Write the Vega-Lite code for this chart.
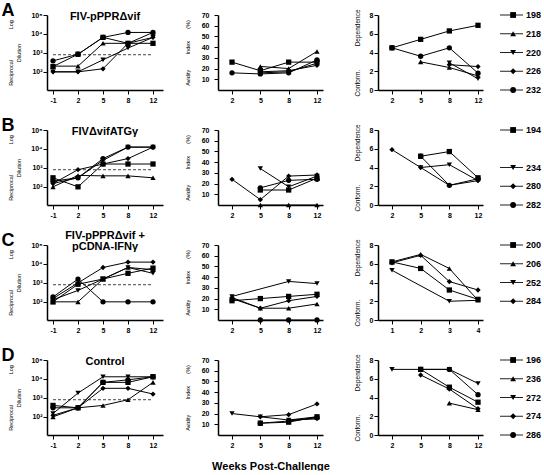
{
"$schema": "https://vega.github.io/schema/vega-lite/v6.json",
"padding": {"left": 1, "top": 1, "right": 0, "bottom": 0},
"background": "white",
"datasets": {
"titer": [
{"group":"A","animal":"198","week":-1,"titer":190},{"group":"A","animal":"198","week":2,"titer":850},{"group":"A","animal":"198","week":5,"titer":6600},{"group":"A","animal":"198","week":8,"titer":3200},{"group":"A","animal":"198","week":12,"titer":3200},
{"group":"A","animal":"218","week":-1,"titer":200},{"group":"A","animal":"218","week":2,"titer":200},{"group":"A","animal":"218","week":5,"titer":3200},{"group":"A","animal":"218","week":8,"titer":3200},{"group":"A","animal":"218","week":12,"titer":12000},
{"group":"A","animal":"220","week":-1,"titer":100},{"group":"A","animal":"220","week":2,"titer":100},{"group":"A","animal":"220","week":5,"titer":430},{"group":"A","animal":"220","week":8,"titer":1800},{"group":"A","animal":"220","week":12,"titer":6600},
{"group":"A","animal":"226","week":-1,"titer":100},{"group":"A","animal":"226","week":2,"titer":100},{"group":"A","animal":"226","week":5,"titer":145},{"group":"A","animal":"226","week":8,"titer":3200},{"group":"A","animal":"226","week":12,"titer":6600},
{"group":"A","animal":"232","week":-1,"titer":380},{"group":"A","animal":"232","week":2,"titer":850},{"group":"A","animal":"232","week":5,"titer":6600},{"group":"A","animal":"232","week":8,"titer":12000},{"group":"A","animal":"232","week":12,"titer":12000},
{"group":"B","animal":"194","week":-1,"titer":300},{"group":"B","animal":"194","week":2,"titer":100},{"group":"B","animal":"194","week":5,"titer":1600},{"group":"B","animal":"194","week":8,"titer":1600},{"group":"B","animal":"194","week":12,"titer":1600},
{"group":"B","animal":"282","week":-1,"titer":200},{"group":"B","animal":"282","week":2,"titer":300},{"group":"B","animal":"282","week":5,"titer":3100},{"group":"B","animal":"282","week":8,"titer":12500},{"group":"B","animal":"282","week":12,"titer":12500},
{"group":"B","animal":"280","week":-1,"titer":150},{"group":"B","animal":"280","week":2,"titer":800},{"group":"B","animal":"280","week":5,"titer":1600},{"group":"B","animal":"280","week":8,"titer":3100},{"group":"B","animal":"280","week":12,"titer":12500},
{"group":"B","animal":"234","week":-1,"titer":150},{"group":"B","animal":"234","week":2,"titer":300},{"group":"B","animal":"234","week":5,"titer":2500},{"group":"B","animal":"234","week":8,"titer":12500},{"group":"B","animal":"234","week":12,"titer":12500},
{"group":"B","animal":"unlabelled B","week":-1,"titer":100},{"group":"B","animal":"unlabelled B","week":2,"titer":400},{"group":"B","animal":"unlabelled B","week":5,"titer":380},{"group":"B","animal":"unlabelled B","week":8,"titer":380},{"group":"B","animal":"unlabelled B","week":12,"titer":300},
{"group":"C","animal":"284","week":-1,"titer":150},{"group":"C","animal":"284","week":2,"titer":1000},{"group":"C","animal":"284","week":5,"titer":6500},{"group":"C","animal":"284","week":8,"titer":12500},{"group":"C","animal":"284","week":12,"titer":12500},
{"group":"C","animal":"200","week":-1,"titer":100},{"group":"C","animal":"200","week":2,"titer":850},{"group":"C","animal":"200","week":5,"titer":1600},{"group":"C","animal":"200","week":8,"titer":3200},{"group":"C","animal":"200","week":12,"titer":6000},
{"group":"C","animal":"206","week":-1,"titer":100},{"group":"C","animal":"206","week":2,"titer":100},{"group":"C","animal":"206","week":5,"titer":1600},{"group":"C","animal":"206","week":8,"titer":6500},{"group":"C","animal":"206","week":12,"titer":5000},
{"group":"C","animal":"252","week":-1,"titer":130},{"group":"C","animal":"252","week":2,"titer":400},{"group":"C","animal":"252","week":5,"titer":1600},{"group":"C","animal":"252","week":8,"titer":6500},{"group":"C","animal":"252","week":12,"titer":3200},
{"group":"C","animal":"unlabelled C","week":-1,"titer":180},{"group":"C","animal":"unlabelled C","week":2,"titer":1600},{"group":"C","animal":"unlabelled C","week":5,"titer":100},{"group":"C","animal":"unlabelled C","week":8,"titer":100},{"group":"C","animal":"unlabelled C","week":12,"titer":100},
{"group":"D","animal":"272","week":-1,"titer":150},{"group":"D","animal":"272","week":2,"titer":1800},{"group":"D","animal":"272","week":5,"titer":13000},{"group":"D","animal":"272","week":8,"titer":13000},{"group":"D","animal":"272","week":12,"titer":13000},
{"group":"D","animal":"196","week":-1,"titer":400},{"group":"D","animal":"196","week":2,"titer":300},{"group":"D","animal":"196","week":5,"titer":6600},{"group":"D","animal":"196","week":8,"titer":6600},{"group":"D","animal":"196","week":12,"titer":13000},
{"group":"D","animal":"286","week":-1,"titer":300},{"group":"D","animal":"286","week":2,"titer":300},{"group":"D","animal":"286","week":5,"titer":6600},{"group":"D","animal":"286","week":8,"titer":9000},{"group":"D","animal":"286","week":12,"titer":13000},
{"group":"D","animal":"274","week":-1,"titer":120},{"group":"D","animal":"274","week":2,"titer":300},{"group":"D","animal":"274","week":5,"titer":3200},{"group":"D","animal":"274","week":8,"titer":3200},{"group":"D","animal":"274","week":12,"titer":1600},
{"group":"D","animal":"236","week":-1,"titer":100},{"group":"D","animal":"236","week":2,"titer":300},{"group":"D","animal":"236","week":5,"titer":400},{"group":"D","animal":"236","week":8,"titer":800},{"group":"D","animal":"236","week":12,"titer":6600}
],
"cutoff": [{"group":"A","cutoff":800},{"group":"B","cutoff":800},{"group":"C","cutoff":800},{"group":"D","cutoff":800}],
"avidity": [
{"group":"A","animal":"198","week":2,"avidity":26},{"group":"A","animal":"198","week":5,"avidity":18},{"group":"A","animal":"198","week":8,"avidity":26},{"group":"A","animal":"198","week":12,"avidity":26},
{"group":"A","animal":"232","week":2,"avidity":16},{"group":"A","animal":"232","week":5,"avidity":15},{"group":"A","animal":"232","week":8,"avidity":16},{"group":"A","animal":"232","week":12,"avidity":28},
{"group":"A","animal":"218","week":5,"avidity":22},{"group":"A","animal":"218","week":8,"avidity":20},{"group":"A","animal":"218","week":12,"avidity":36},
{"group":"A","animal":"220","week":5,"avidity":16},{"group":"A","animal":"220","week":8,"avidity":17},{"group":"A","animal":"220","week":12,"avidity":25},
{"group":"A","animal":"226","week":5,"avidity":17},{"group":"A","animal":"226","week":8,"avidity":18},{"group":"A","animal":"226","week":12,"avidity":23},
{"group":"B","animal":"194","week":5,"avidity":14},{"group":"B","animal":"194","week":8,"avidity":14},{"group":"B","animal":"194","week":12,"avidity":25},
{"group":"B","animal":"282","week":5,"avidity":16},{"group":"B","animal":"282","week":8,"avidity":23},{"group":"B","animal":"282","week":12,"avidity":24},
{"group":"B","animal":"234","week":5,"avidity":34},{"group":"B","animal":"234","week":8,"avidity":17},{"group":"B","animal":"234","week":12,"avidity":27},
{"group":"B","animal":"280","week":2,"avidity":24},{"group":"B","animal":"280","week":5,"avidity":5},{"group":"B","animal":"280","week":8,"avidity":27},{"group":"B","animal":"280","week":12,"avidity":28},
{"group":"B","animal":"unlabelled B","week":5,"avidity":0},{"group":"B","animal":"unlabelled B","week":8,"avidity":0},{"group":"B","animal":"unlabelled B","week":12,"avidity":0},
{"group":"C","animal":"252","week":2,"avidity":22},{"group":"C","animal":"252","week":8,"avidity":36},{"group":"C","animal":"252","week":12,"avidity":34},
{"group":"C","animal":"200","week":2,"avidity":18},{"group":"C","animal":"200","week":5,"avidity":20},{"group":"C","animal":"200","week":8,"avidity":22},{"group":"C","animal":"200","week":12,"avidity":24},
{"group":"C","animal":"206","week":2,"avidity":20},{"group":"C","animal":"206","week":5,"avidity":11},{"group":"C","animal":"206","week":8,"avidity":11},{"group":"C","animal":"206","week":12,"avidity":15},
{"group":"C","animal":"284","week":2,"avidity":21},{"group":"C","animal":"284","week":5,"avidity":11},{"group":"C","animal":"284","week":8,"avidity":18},{"group":"C","animal":"284","week":12,"avidity":22},
{"group":"C","animal":"unlabelled C","week":5,"avidity":0},{"group":"C","animal":"unlabelled C","week":8,"avidity":0},{"group":"C","animal":"unlabelled C","week":12,"avidity":0},
{"group":"D","animal":"272","week":2,"avidity":20},{"group":"D","animal":"272","week":5,"avidity":17},{"group":"D","animal":"272","week":8,"avidity":14},{"group":"D","animal":"272","week":12,"avidity":15},
{"group":"D","animal":"274","week":5,"avidity":17},{"group":"D","animal":"274","week":8,"avidity":19},{"group":"D","animal":"274","week":12,"avidity":29},
{"group":"D","animal":"196","week":5,"avidity":11},{"group":"D","animal":"196","week":8,"avidity":12},{"group":"D","animal":"196","week":12,"avidity":17},
{"group":"D","animal":"286","week":5,"avidity":11},{"group":"D","animal":"286","week":8,"avidity":13},{"group":"D","animal":"286","week":12,"avidity":16},
{"group":"D","animal":"236","week":8,"avidity":14},{"group":"D","animal":"236","week":12,"avidity":17}
],
"dependence": [
{"group":"A","animal":"198","week":2,"dependence":4.5},{"group":"A","animal":"198","week":5,"dependence":5.4},{"group":"A","animal":"198","week":8,"dependence":6.3},{"group":"A","animal":"198","week":12,"dependence":6.9},
{"group":"A","animal":"232","week":2,"dependence":4.5},{"group":"A","animal":"232","week":5,"dependence":3.6},{"group":"A","animal":"232","week":8,"dependence":4.5},{"group":"A","animal":"232","week":12,"dependence":1.8},
{"group":"A","animal":"218","week":5,"dependence":3.0},{"group":"A","animal":"218","week":8,"dependence":2.4},{"group":"A","animal":"218","week":12,"dependence":1.5},
{"group":"A","animal":"220","week":8,"dependence":2.9},{"group":"A","animal":"220","week":12,"dependence":1.2},
{"group":"A","animal":"226","week":8,"dependence":2.7},{"group":"A","animal":"226","week":12,"dependence":2.5},
{"group":"B","animal":"280","week":2,"dependence":5.9},{"group":"B","animal":"280","week":5,"dependence":4.0},{"group":"B","animal":"280","week":8,"dependence":2.1},{"group":"B","animal":"280","week":12,"dependence":2.6},
{"group":"B","animal":"194","week":5,"dependence":5.2},{"group":"B","animal":"194","week":8,"dependence":5.7},{"group":"B","animal":"194","week":12,"dependence":2.9},
{"group":"B","animal":"234","week":5,"dependence":4.0},{"group":"B","animal":"234","week":8,"dependence":4.3},{"group":"B","animal":"234","week":12,"dependence":2.6},
{"group":"B","animal":"282","week":5,"dependence":5.2},{"group":"B","animal":"282","week":8,"dependence":2.1},{"group":"B","animal":"282","week":12,"dependence":2.8},
{"group":"C","animal":"200","week":1,"dependence":6.2},{"group":"C","animal":"200","week":2,"dependence":5.5},{"group":"C","animal":"200","week":3,"dependence":3.2},{"group":"C","animal":"200","week":4,"dependence":2.2},
{"group":"C","animal":"206","week":1,"dependence":6.2},{"group":"C","animal":"206","week":2,"dependence":7.0},{"group":"C","animal":"206","week":3,"dependence":5.5},{"group":"C","animal":"206","week":4,"dependence":2.1},
{"group":"C","animal":"252","week":1,"dependence":5.3},{"group":"C","animal":"252","week":3,"dependence":2.0},{"group":"C","animal":"252","week":4,"dependence":2.1},
{"group":"C","animal":"284","week":1,"dependence":6.1},{"group":"C","animal":"284","week":2,"dependence":6.9},{"group":"C","animal":"284","week":3,"dependence":4.1},{"group":"C","animal":"284","week":4,"dependence":3.2},
{"group":"D","animal":"272","week":2,"dependence":7.0},{"group":"D","animal":"272","week":5,"dependence":7.0},{"group":"D","animal":"272","week":8,"dependence":7.0},{"group":"D","animal":"272","week":12,"dependence":5.5},
{"group":"D","animal":"286","week":5,"dependence":7.0},{"group":"D","animal":"286","week":8,"dependence":7.0},{"group":"D","animal":"286","week":12,"dependence":4.3},
{"group":"D","animal":"196","week":5,"dependence":7.0},{"group":"D","animal":"196","week":8,"dependence":5.1},{"group":"D","animal":"196","week":12,"dependence":3.5},
{"group":"D","animal":"274","week":5,"dependence":6.4},{"group":"D","animal":"274","week":8,"dependence":4.9},{"group":"D","animal":"274","week":12,"dependence":2.8},
{"group":"D","animal":"236","week":8,"dependence":3.4},{"group":"D","animal":"236","week":12,"dependence":2.7}
],
"legend": [
{"group":"A","animal":"198"},{"group":"A","animal":"218"},{"group":"A","animal":"220"},{"group":"A","animal":"226"},{"group":"A","animal":"232"},
{"group":"B","animal":"194"},{"group":"B","animal":"234"},{"group":"B","animal":"280"},{"group":"B","animal":"282"},
{"group":"C","animal":"200"},{"group":"C","animal":"206"},{"group":"C","animal":"252"},{"group":"C","animal":"284"},
{"group":"D","animal":"196"},{"group":"D","animal":"236"},{"group":"D","animal":"272"},{"group":"D","animal":"274"},{"group":"D","animal":"286"}
]
},
"hconcat": [
{
"columns": 3,
"spacing": {"row": 40, "column": 55},
"bounds": "flush",
"align": "each",
"concat": [
{"width": 116, "height": 75, "title": {"text": "FIV-pPPRΔvif"},
 "data": {"name": "titer"},
 "encoding": {
  "x": {"field": "week", "type": "ordinal", "scale": {"type": "point", "domain": [-1,2,5,8,12], "padding": 0.32, "align": 0.375}, "axis": {"labelAngle": 0, "title": "A", "titleFontSize": 18, "titleFontWeight": "bold", "titleX": -46, "titleY": -75, "titleAlign": "left", "titleBaseline": "alphabetic", "titleAngle": 0}},
  "y": {"field": "titer", "type": "quantitative", "scale": {"type": "log", "domain": [11, 100000], "nice": false}, "axis": {"values": [100,1000,10000,100000], "labelExpr": "datum.value == 100 ? '10²' : datum.value == 1000 ? '10³' : datum.value == 10000 ? '10⁴' : '10⁵'", "labelPadding": 1, "title": ["Reciprocal\u00a0\u00a0\u00a0\u00a0\u00a0\u00a0\u00a0\u00a0\u00a0\u00a0\u00a0\u00a0\u00a0\u00a0\u00a0\u00a0\u00a0\u00a0\u00a0\u00a0Log", "Dilution\u00a0\u00a0\u00a0\u00a0\u00a0\u00a0"], "titlePadding": 9, "titleLineHeight": 8}}},
 "layer": [
  {"data": {"name": "cutoff"}, "transform": [{"filter": "datum.group == 'A'"}], "mark": {"type": "rule", "strokeDash": [3,2], "color": "#444", "strokeWidth": 1}, "encoding": {"x": {"datum": -1, "type": "ordinal"}, "x2": {"datum": 12}, "y": {"field": "cutoff", "type": "quantitative"}}},
  {"transform": [{"filter": "datum.group == 'A'"}], "mark": {"type": "line", "color": "black", "strokeWidth": 1}, "encoding": {"detail": {"field": "animal"}}},
  {"transform": [{"filter": "datum.group == 'A'"}], "mark": {"type": "point", "filled": true, "color": "black", "opacity": 1, "size": 28}, "encoding": {"shape": {"field": "animal", "type": "nominal", "legend": null, "scale": {"domain": ["198","218","220","226","232","194","unlabelled B","234","280","282","200","206","252","284","unlabelled C","196","236","272","274","286"], "range": ["square","triangle-up","triangle-down","diamond","circle","square","triangle-up","triangle-down","diamond","circle","square","triangle-up","triangle-down","diamond","circle","square","triangle-up","triangle-down","diamond","circle"]}}}}
 ]},
{"width": 105, "height": 75,
 "data": {"name": "avidity"},
 "transform": [{"filter": "datum.group == 'A'"}],
 "encoding": {
  "x": {"field": "week", "type": "ordinal", "scale": {"type": "point", "domain": [2,5,8,12], "padding": 0.353, "align": 0.7}, "axis": {"labelAngle": 0, "title": null}},
  "y": {"field": "avidity", "type": "quantitative", "scale": {"domain": [0, 70], "nice": false}, "axis": {"values": [10,20,30,40,50,60,70], "labelPadding": 5, "title": "Avidity\u00a0\u00a0\u00a0\u00a0\u00a0\u00a0\u00a0\u00a0\u00a0\u00a0Index\u00a0\u00a0\u00a0\u00a0\u00a0\u00a0\u00a0\u00a0(%)", "titlePadding": 11}}},
 "layer": [
  {"mark": {"type": "line", "color": "black", "strokeWidth": 1}, "encoding": {"detail": {"field": "animal"}}},
  {"mark": {"type": "point", "filled": true, "color": "black", "opacity": 1, "size": 28}, "encoding": {"shape": {"field": "animal", "type": "nominal", "legend": null, "scale": {"domain": ["198","218","220","226","232","194","unlabelled B","234","280","282","200","206","252","284","unlabelled C","196","236","272","274","286"], "range": ["square","triangle-up","triangle-down","diamond","circle","square","triangle-up","triangle-down","diamond","circle","square","triangle-up","triangle-down","diamond","circle","square","triangle-up","triangle-down","diamond","circle"]}}}}
 ]},
{"width": 105, "height": 75,
 "data": {"name": "dependence"},
 "transform": [{"filter": "datum.group == 'A'"}],
 "encoding": {
  "x": {"field": "week", "type": "ordinal", "scale": {"type": "point", "domain": [2,5,8,12], "padding": 0.331, "align": 0.737}, "axis": {"labelAngle": 0, "title": null}},
  "y": {"field": "dependence", "type": "quantitative", "scale": {"domain": [0, 8], "nice": false}, "axis": {"values": [0,2,4,6,8], "labelPadding": 1, "title": "Conform.\u00a0\u00a0\u00a0\u00a0\u00a0\u00a0\u00a0\u00a0\u00a0\u00a0\u00a0\u00a0\u00a0Dependence", "titleFontSize": 6.5, "titlePadding": 9}}},
 "layer": [
  {"mark": {"type": "line", "color": "black", "strokeWidth": 1}, "encoding": {"detail": {"field": "animal"}}},
  {"mark": {"type": "point", "filled": true, "color": "black", "opacity": 1, "size": 28}, "encoding": {"shape": {"field": "animal", "type": "nominal", "legend": null, "scale": {"domain": ["198","218","220","226","232","194","unlabelled B","234","280","282","200","206","252","284","unlabelled C","196","236","272","274","286"], "range": ["square","triangle-up","triangle-down","diamond","circle","square","triangle-up","triangle-down","diamond","circle","square","triangle-up","triangle-down","diamond","circle","square","triangle-up","triangle-down","diamond","circle"]}}}}
 ]},

{"width": 116, "height": 75, "title": {"text": "FIVΔvifATGγ"},
 "data": {"name": "titer"},
 "encoding": {
  "x": {"field": "week", "type": "ordinal", "scale": {"type": "point", "domain": [-1,2,5,8,12], "padding": 0.32, "align": 0.375}, "axis": {"labelAngle": 0, "title": "B", "titleFontSize": 18, "titleFontWeight": "bold", "titleX": -46, "titleY": -75, "titleAlign": "left", "titleBaseline": "alphabetic", "titleAngle": 0}},
  "y": {"field": "titer", "type": "quantitative", "scale": {"type": "log", "domain": [11, 100000], "nice": false}, "axis": {"values": [100,1000,10000,100000], "labelExpr": "datum.value == 100 ? '10²' : datum.value == 1000 ? '10³' : datum.value == 10000 ? '10⁴' : '10⁵'", "labelPadding": 1, "title": ["Reciprocal\u00a0\u00a0\u00a0\u00a0\u00a0\u00a0\u00a0\u00a0\u00a0\u00a0\u00a0\u00a0\u00a0\u00a0\u00a0\u00a0\u00a0\u00a0\u00a0\u00a0Log", "Dilution\u00a0\u00a0\u00a0\u00a0\u00a0\u00a0"], "titlePadding": 9, "titleLineHeight": 8}}},
 "layer": [
  {"data": {"name": "cutoff"}, "transform": [{"filter": "datum.group == 'B'"}], "mark": {"type": "rule", "strokeDash": [3,2], "color": "#444", "strokeWidth": 1}, "encoding": {"x": {"datum": -1, "type": "ordinal"}, "x2": {"datum": 12}, "y": {"field": "cutoff", "type": "quantitative"}}},
  {"transform": [{"filter": "datum.group == 'B'"}], "mark": {"type": "line", "color": "black", "strokeWidth": 1}, "encoding": {"detail": {"field": "animal"}}},
  {"transform": [{"filter": "datum.group == 'B'"}], "mark": {"type": "point", "filled": true, "color": "black", "opacity": 1, "size": 28}, "encoding": {"shape": {"field": "animal", "type": "nominal", "legend": null, "scale": {"domain": ["198","218","220","226","232","194","unlabelled B","234","280","282","200","206","252","284","unlabelled C","196","236","272","274","286"], "range": ["square","triangle-up","triangle-down","diamond","circle","square","triangle-up","triangle-down","diamond","circle","square","triangle-up","triangle-down","diamond","circle","square","triangle-up","triangle-down","diamond","circle"]}}}}
 ]},
{"width": 105, "height": 75,
 "data": {"name": "avidity"},
 "transform": [{"filter": "datum.group == 'B'"}],
 "encoding": {
  "x": {"field": "week", "type": "ordinal", "scale": {"type": "point", "domain": [2,5,8,12], "padding": 0.353, "align": 0.7}, "axis": {"labelAngle": 0, "title": null}},
  "y": {"field": "avidity", "type": "quantitative", "scale": {"domain": [0, 70], "nice": false}, "axis": {"values": [10,20,30,40,50,60,70], "labelPadding": 5, "title": "Avidity\u00a0\u00a0\u00a0\u00a0\u00a0\u00a0\u00a0\u00a0\u00a0\u00a0Index\u00a0\u00a0\u00a0\u00a0\u00a0\u00a0\u00a0\u00a0(%)", "titlePadding": 11}}},
 "layer": [
  {"mark": {"type": "line", "color": "black", "strokeWidth": 1}, "encoding": {"detail": {"field": "animal"}}},
  {"mark": {"type": "point", "filled": true, "color": "black", "opacity": 1, "size": 28}, "encoding": {"shape": {"field": "animal", "type": "nominal", "legend": null, "scale": {"domain": ["198","218","220","226","232","194","unlabelled B","234","280","282","200","206","252","284","unlabelled C","196","236","272","274","286"], "range": ["square","triangle-up","triangle-down","diamond","circle","square","triangle-up","triangle-down","diamond","circle","square","triangle-up","triangle-down","diamond","circle","square","triangle-up","triangle-down","diamond","circle"]}}}}
 ]},
{"width": 105, "height": 75,
 "data": {"name": "dependence"},
 "transform": [{"filter": "datum.group == 'B'"}],
 "encoding": {
  "x": {"field": "week", "type": "ordinal", "scale": {"type": "point", "domain": [2,5,8,12], "padding": 0.331, "align": 0.737}, "axis": {"labelAngle": 0, "title": null}},
  "y": {"field": "dependence", "type": "quantitative", "scale": {"domain": [0, 8], "nice": false}, "axis": {"values": [0,2,4,6,8], "labelPadding": 1, "title": "Conform.\u00a0\u00a0\u00a0\u00a0\u00a0\u00a0\u00a0\u00a0\u00a0\u00a0\u00a0\u00a0\u00a0Dependence", "titleFontSize": 6.5, "titlePadding": 9}}},
 "layer": [
  {"mark": {"type": "line", "color": "black", "strokeWidth": 1}, "encoding": {"detail": {"field": "animal"}}},
  {"mark": {"type": "point", "filled": true, "color": "black", "opacity": 1, "size": 28}, "encoding": {"shape": {"field": "animal", "type": "nominal", "legend": null, "scale": {"domain": ["198","218","220","226","232","194","unlabelled B","234","280","282","200","206","252","284","unlabelled C","196","236","272","274","286"], "range": ["square","triangle-up","triangle-down","diamond","circle","square","triangle-up","triangle-down","diamond","circle","square","triangle-up","triangle-down","diamond","circle","square","triangle-up","triangle-down","diamond","circle"]}}}}
 ]},

{"width": 116, "height": 75, "title": {"text": ["FIV-pPPRΔvif  +", "pCDNA-IFNγ"], "lineHeight": 11},
 "data": {"name": "titer"},
 "encoding": {
  "x": {"field": "week", "type": "ordinal", "scale": {"type": "point", "domain": [-1,2,5,8,12], "padding": 0.32, "align": 0.375}, "axis": {"labelAngle": 0, "title": "C", "titleFontSize": 18, "titleFontWeight": "bold", "titleX": -46, "titleY": -75, "titleAlign": "left", "titleBaseline": "alphabetic", "titleAngle": 0}},
  "y": {"field": "titer", "type": "quantitative", "scale": {"type": "log", "domain": [11, 100000], "nice": false}, "axis": {"values": [100,1000,10000,100000], "labelExpr": "datum.value == 100 ? '10²' : datum.value == 1000 ? '10³' : datum.value == 10000 ? '10⁴' : '10⁵'", "labelPadding": 1, "title": ["Reciprocal\u00a0\u00a0\u00a0\u00a0\u00a0\u00a0\u00a0\u00a0\u00a0\u00a0\u00a0\u00a0\u00a0\u00a0\u00a0\u00a0\u00a0\u00a0\u00a0\u00a0Log", "Dilution\u00a0\u00a0\u00a0\u00a0\u00a0\u00a0"], "titlePadding": 9, "titleLineHeight": 8}}},
 "layer": [
  {"data": {"name": "cutoff"}, "transform": [{"filter": "datum.group == 'C'"}], "mark": {"type": "rule", "strokeDash": [3,2], "color": "#444", "strokeWidth": 1}, "encoding": {"x": {"datum": -1, "type": "ordinal"}, "x2": {"datum": 12}, "y": {"field": "cutoff", "type": "quantitative"}}},
  {"transform": [{"filter": "datum.group == 'C'"}], "mark": {"type": "line", "color": "black", "strokeWidth": 1}, "encoding": {"detail": {"field": "animal"}}},
  {"transform": [{"filter": "datum.group == 'C'"}], "mark": {"type": "point", "filled": true, "color": "black", "opacity": 1, "size": 28}, "encoding": {"shape": {"field": "animal", "type": "nominal", "legend": null, "scale": {"domain": ["198","218","220","226","232","194","unlabelled B","234","280","282","200","206","252","284","unlabelled C","196","236","272","274","286"], "range": ["square","triangle-up","triangle-down","diamond","circle","square","triangle-up","triangle-down","diamond","circle","square","triangle-up","triangle-down","diamond","circle","square","triangle-up","triangle-down","diamond","circle"]}}}}
 ]},
{"width": 105, "height": 75,
 "data": {"name": "avidity"},
 "transform": [{"filter": "datum.group == 'C'"}],
 "encoding": {
  "x": {"field": "week", "type": "ordinal", "scale": {"type": "point", "domain": [2,5,8,12], "padding": 0.353, "align": 0.7}, "axis": {"labelAngle": 0, "title": null}},
  "y": {"field": "avidity", "type": "quantitative", "scale": {"domain": [0, 70], "nice": false}, "axis": {"values": [10,20,30,40,50,60,70], "labelPadding": 5, "title": "Avidity\u00a0\u00a0\u00a0\u00a0\u00a0\u00a0\u00a0\u00a0\u00a0\u00a0Index\u00a0\u00a0\u00a0\u00a0\u00a0\u00a0\u00a0\u00a0(%)", "titlePadding": 11}}},
 "layer": [
  {"mark": {"type": "line", "color": "black", "strokeWidth": 1}, "encoding": {"detail": {"field": "animal"}}},
  {"mark": {"type": "point", "filled": true, "color": "black", "opacity": 1, "size": 28}, "encoding": {"shape": {"field": "animal", "type": "nominal", "legend": null, "scale": {"domain": ["198","218","220","226","232","194","unlabelled B","234","280","282","200","206","252","284","unlabelled C","196","236","272","274","286"], "range": ["square","triangle-up","triangle-down","diamond","circle","square","triangle-up","triangle-down","diamond","circle","square","triangle-up","triangle-down","diamond","circle","square","triangle-up","triangle-down","diamond","circle"]}}}}
 ]},
{"width": 105, "height": 75,
 "data": {"name": "dependence"},
 "transform": [{"filter": "datum.group == 'C'"}],
 "encoding": {
  "x": {"field": "week", "type": "ordinal", "scale": {"type": "point", "domain": [1,2,3,4], "padding": 0.331, "align": 0.737}, "axis": {"labelAngle": 0, "title": null}},
  "y": {"field": "dependence", "type": "quantitative", "scale": {"domain": [0, 8], "nice": false}, "axis": {"values": [0,2,4,6,8], "labelPadding": 1, "title": "Conform.\u00a0\u00a0\u00a0\u00a0\u00a0\u00a0\u00a0\u00a0\u00a0\u00a0\u00a0\u00a0\u00a0Dependence", "titleFontSize": 6.5, "titlePadding": 9}}},
 "layer": [
  {"mark": {"type": "line", "color": "black", "strokeWidth": 1}, "encoding": {"detail": {"field": "animal"}}},
  {"mark": {"type": "point", "filled": true, "color": "black", "opacity": 1, "size": 28}, "encoding": {"shape": {"field": "animal", "type": "nominal", "legend": null, "scale": {"domain": ["198","218","220","226","232","194","unlabelled B","234","280","282","200","206","252","284","unlabelled C","196","236","272","274","286"], "range": ["square","triangle-up","triangle-down","diamond","circle","square","triangle-up","triangle-down","diamond","circle","square","triangle-up","triangle-down","diamond","circle","square","triangle-up","triangle-down","diamond","circle"]}}}}
 ]},

{"width": 116, "height": 75, "title": {"text": "Control"},
 "data": {"name": "titer"},
 "encoding": {
  "x": {"field": "week", "type": "ordinal", "scale": {"type": "point", "domain": [-1,2,5,8,12], "padding": 0.32, "align": 0.375}, "axis": {"labelAngle": 0, "title": "D", "titleFontSize": 18, "titleFontWeight": "bold", "titleX": -46, "titleY": -75, "titleAlign": "left", "titleBaseline": "alphabetic", "titleAngle": 0}},
  "y": {"field": "titer", "type": "quantitative", "scale": {"type": "log", "domain": [11, 100000], "nice": false}, "axis": {"values": [100,1000,10000,100000], "labelExpr": "datum.value == 100 ? '10²' : datum.value == 1000 ? '10³' : datum.value == 10000 ? '10⁴' : '10⁵'", "labelPadding": 1, "title": ["Reciprocal\u00a0\u00a0\u00a0\u00a0\u00a0\u00a0\u00a0\u00a0\u00a0\u00a0\u00a0\u00a0\u00a0\u00a0\u00a0\u00a0\u00a0\u00a0\u00a0\u00a0Log", "Dilution\u00a0\u00a0\u00a0\u00a0\u00a0\u00a0"], "titlePadding": 9, "titleLineHeight": 8}}},
 "layer": [
  {"data": {"name": "cutoff"}, "transform": [{"filter": "datum.group == 'D'"}], "mark": {"type": "rule", "strokeDash": [3,2], "color": "#444", "strokeWidth": 1}, "encoding": {"x": {"datum": -1, "type": "ordinal"}, "x2": {"datum": 12}, "y": {"field": "cutoff", "type": "quantitative"}}},
  {"transform": [{"filter": "datum.group == 'D'"}], "mark": {"type": "line", "color": "black", "strokeWidth": 1}, "encoding": {"detail": {"field": "animal"}}},
  {"transform": [{"filter": "datum.group == 'D'"}], "mark": {"type": "point", "filled": true, "color": "black", "opacity": 1, "size": 28}, "encoding": {"shape": {"field": "animal", "type": "nominal", "legend": null, "scale": {"domain": ["198","218","220","226","232","194","unlabelled B","234","280","282","200","206","252","284","unlabelled C","196","236","272","274","286"], "range": ["square","triangle-up","triangle-down","diamond","circle","square","triangle-up","triangle-down","diamond","circle","square","triangle-up","triangle-down","diamond","circle","square","triangle-up","triangle-down","diamond","circle"]}}}}
 ]},
{"width": 105, "height": 75,
 "data": {"name": "avidity"},
 "transform": [{"filter": "datum.group == 'D'"}],
 "encoding": {
  "x": {"field": "week", "type": "ordinal", "scale": {"type": "point", "domain": [2,5,8,12], "padding": 0.353, "align": 0.7}, "axis": {"labelAngle": 0, "title": "Weeks Post-Challenge", "titleFontSize": 11, "titleFontWeight": "bold", "titlePadding": 12}},
  "y": {"field": "avidity", "type": "quantitative", "scale": {"domain": [0, 70], "nice": false}, "axis": {"values": [10,20,30,40,50,60,70], "labelPadding": 5, "title": "Avidity\u00a0\u00a0\u00a0\u00a0\u00a0\u00a0\u00a0\u00a0\u00a0\u00a0Index\u00a0\u00a0\u00a0\u00a0\u00a0\u00a0\u00a0\u00a0(%)", "titlePadding": 11}}},
 "layer": [
  {"mark": {"type": "line", "color": "black", "strokeWidth": 1}, "encoding": {"detail": {"field": "animal"}}},
  {"mark": {"type": "point", "filled": true, "color": "black", "opacity": 1, "size": 28}, "encoding": {"shape": {"field": "animal", "type": "nominal", "legend": null, "scale": {"domain": ["198","218","220","226","232","194","unlabelled B","234","280","282","200","206","252","284","unlabelled C","196","236","272","274","286"], "range": ["square","triangle-up","triangle-down","diamond","circle","square","triangle-up","triangle-down","diamond","circle","square","triangle-up","triangle-down","diamond","circle","square","triangle-up","triangle-down","diamond","circle"]}}}}
 ]},
{"width": 105, "height": 75,
 "data": {"name": "dependence"},
 "transform": [{"filter": "datum.group == 'D'"}],
 "encoding": {
  "x": {"field": "week", "type": "ordinal", "scale": {"type": "point", "domain": [2,5,8,12], "padding": 0.331, "align": 0.737}, "axis": {"labelAngle": 0, "title": null}},
  "y": {"field": "dependence", "type": "quantitative", "scale": {"domain": [0, 8], "nice": false}, "axis": {"values": [0,2,4,6,8], "labelPadding": 1, "title": "Conform.\u00a0\u00a0\u00a0\u00a0\u00a0\u00a0\u00a0\u00a0\u00a0\u00a0\u00a0\u00a0\u00a0Dependence", "titleFontSize": 6.5, "titlePadding": 9}}},
 "layer": [
  {"mark": {"type": "line", "color": "black", "strokeWidth": 1}, "encoding": {"detail": {"field": "animal"}}},
  {"mark": {"type": "point", "filled": true, "color": "black", "opacity": 1, "size": 28}, "encoding": {"shape": {"field": "animal", "type": "nominal", "legend": null, "scale": {"domain": ["198","218","220","226","232","194","unlabelled B","234","280","282","200","206","252","284","unlabelled C","196","236","272","274","286"], "range": ["square","triangle-up","triangle-down","diamond","circle","square","triangle-up","triangle-down","diamond","circle","square","triangle-up","triangle-down","diamond","circle","square","triangle-up","triangle-down","diamond","circle"]}}}}
 ]}
]
},
{
"spacing": 40,
"bounds": "flush",
"vconcat": [
{"width": 23, "height": 75, "data": {"name": "legend"}, "transform": [{"filter": "datum.group == 'A'"}],
 "encoding": {"y": {"field": "animal", "type": "nominal", "scale": {"type": "point", "domain": ["198","218","220","226","232"], "padding": 0}, "axis": null}},
 "layer": [
  {"mark": {"type": "rule", "color": "#222", "strokeWidth": 1}, "encoding": {"x": {"datum": 0, "type": "quantitative", "scale": {"domain": [0, 1]}, "axis": null}, "x2": {"datum": 1}}},
  {"mark": {"type": "point", "filled": true, "color": "black", "opacity": 1, "size": 34}, "encoding": {"x": {"datum": 0.57, "type": "quantitative"}, "shape": {"field": "animal", "type": "nominal", "legend": null, "scale": {"domain": ["198","218","220","226","232","194","unlabelled B","234","280","282","200","206","252","284","unlabelled C","196","236","272","274","286"], "range": ["square","triangle-up","triangle-down","diamond","circle","square","triangle-up","triangle-down","diamond","circle","square","triangle-up","triangle-down","diamond","circle","square","triangle-up","triangle-down","diamond","circle"]}}}},
  {"mark": {"type": "text", "align": "left", "baseline": "middle", "dx": 3, "fontSize": 9, "fontWeight": "bold", "color": "black"}, "encoding": {"x": {"datum": 1, "type": "quantitative"}, "text": {"field": "animal"}}}
 ]},
{"width": 23, "height": 75, "data": {"name": "legend"}, "transform": [{"filter": "datum.group == 'B'"}],
 "encoding": {"y": {"field": "animal", "type": "nominal", "scale": {"type": "point", "domain": ["194"," ","234","280","282"], "padding": 0}, "axis": null}},
 "layer": [
  {"mark": {"type": "rule", "color": "#222", "strokeWidth": 1}, "encoding": {"x": {"datum": 0, "type": "quantitative", "scale": {"domain": [0, 1]}, "axis": null}, "x2": {"datum": 1}}},
  {"mark": {"type": "point", "filled": true, "color": "black", "opacity": 1, "size": 34}, "encoding": {"x": {"datum": 0.57, "type": "quantitative"}, "shape": {"field": "animal", "type": "nominal", "legend": null, "scale": {"domain": ["198","218","220","226","232","194","unlabelled B","234","280","282","200","206","252","284","unlabelled C","196","236","272","274","286"], "range": ["square","triangle-up","triangle-down","diamond","circle","square","triangle-up","triangle-down","diamond","circle","square","triangle-up","triangle-down","diamond","circle","square","triangle-up","triangle-down","diamond","circle"]}}}},
  {"mark": {"type": "text", "align": "left", "baseline": "middle", "dx": 3, "fontSize": 9, "fontWeight": "bold", "color": "black"}, "encoding": {"x": {"datum": 1, "type": "quantitative"}, "text": {"field": "animal"}}}
 ]},
{"width": 23, "height": 75, "data": {"name": "legend"}, "transform": [{"filter": "datum.group == 'C'"}],
 "encoding": {"y": {"field": "animal", "type": "nominal", "scale": {"type": "point", "domain": ["200","206","252","284"," "], "padding": 0}, "axis": null}},
 "layer": [
  {"mark": {"type": "rule", "color": "#222", "strokeWidth": 1}, "encoding": {"x": {"datum": 0, "type": "quantitative", "scale": {"domain": [0, 1]}, "axis": null}, "x2": {"datum": 1}}},
  {"mark": {"type": "point", "filled": true, "color": "black", "opacity": 1, "size": 34}, "encoding": {"x": {"datum": 0.57, "type": "quantitative"}, "shape": {"field": "animal", "type": "nominal", "legend": null, "scale": {"domain": ["198","218","220","226","232","194","unlabelled B","234","280","282","200","206","252","284","unlabelled C","196","236","272","274","286"], "range": ["square","triangle-up","triangle-down","diamond","circle","square","triangle-up","triangle-down","diamond","circle","square","triangle-up","triangle-down","diamond","circle","square","triangle-up","triangle-down","diamond","circle"]}}}},
  {"mark": {"type": "text", "align": "left", "baseline": "middle", "dx": 3, "fontSize": 9, "fontWeight": "bold", "color": "black"}, "encoding": {"x": {"datum": 1, "type": "quantitative"}, "text": {"field": "animal"}}}
 ]},
{"width": 23, "height": 75, "data": {"name": "legend"}, "transform": [{"filter": "datum.group == 'D'"}],
 "encoding": {"y": {"field": "animal", "type": "nominal", "scale": {"type": "point", "domain": ["196","236","272","274","286"], "padding": 0}, "axis": null}},
 "layer": [
  {"mark": {"type": "rule", "color": "#222", "strokeWidth": 1}, "encoding": {"x": {"datum": 0, "type": "quantitative", "scale": {"domain": [0, 1]}, "axis": null}, "x2": {"datum": 1}}},
  {"mark": {"type": "point", "filled": true, "color": "black", "opacity": 1, "size": 34}, "encoding": {"x": {"datum": 0.57, "type": "quantitative"}, "shape": {"field": "animal", "type": "nominal", "legend": null, "scale": {"domain": ["198","218","220","226","232","194","unlabelled B","234","280","282","200","206","252","284","unlabelled C","196","236","272","274","286"], "range": ["square","triangle-up","triangle-down","diamond","circle","square","triangle-up","triangle-down","diamond","circle","square","triangle-up","triangle-down","diamond","circle","square","triangle-up","triangle-down","diamond","circle"]}}}},
  {"mark": {"type": "text", "align": "left", "baseline": "middle", "dx": 3, "fontSize": 9, "fontWeight": "bold", "color": "black"}, "encoding": {"x": {"datum": 1, "type": "quantitative"}, "text": {"field": "animal"}}}
 ]}
]
}
],
"spacing": 453,
"bounds": "flush",
"config": {
 "font": "Liberation Sans",
 "view": {"stroke": null},
 "axis": {"grid": false, "domainColor": "black", "domainWidth": 1.5, "tickColor": "black", "tickSize": 4, "tickWidth": 1, "labelFont": "Liberation Sans", "labelFontSize": 7, "labelFontWeight": "bold", "labelColor": "black", "labelPadding": 2, "titleFont": "Liberation Sans", "titleFontSize": 5.5, "titleFontWeight": "normal", "titleColor": "black"},
 "title": {"font": "Liberation Sans", "fontSize": 11, "fontWeight": "bold", "color": "black", "anchor": "middle", "frame": "group", "offset": -21, "lineHeight": 10}
}
}
